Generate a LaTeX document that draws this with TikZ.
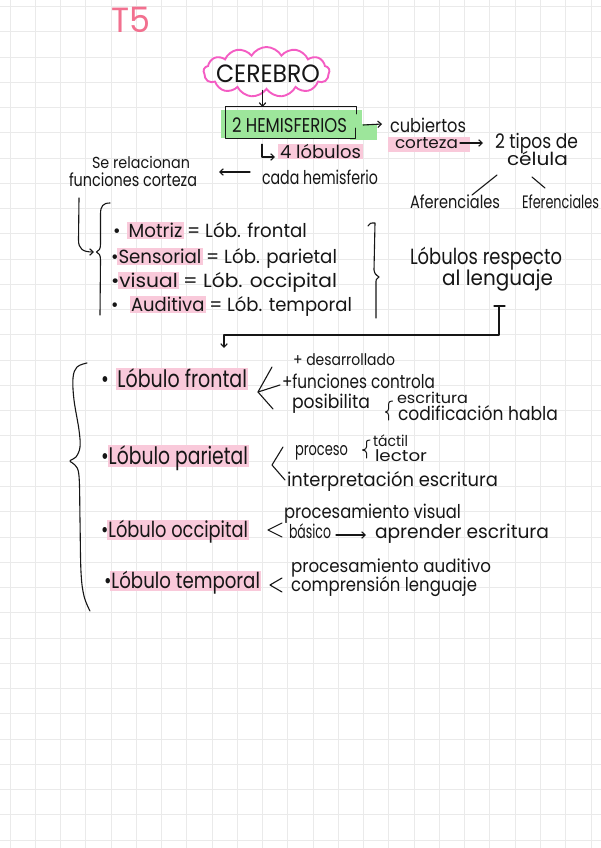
\documentclass[tikz,border=0pt]{standalone}
\usepackage{fontspec}
\setmainfont{Poppins}
\usetikzlibrary{arrows.meta,shapes.symbols}
\definecolor{gridgray}{HTML}{EAEAEA}
\definecolor{ink}{HTML}{161616}
\definecolor{tpink}{HTML}{F2708F}
\definecolor{cloudpink}{HTML}{F45CC3}
\definecolor{hlpink}{HTML}{F9C9DA}
\definecolor{hlgreen}{HTML}{9DE69B}
\newdimen\fitlen
\newcommand\fitw[2]{\settowidth{\fitlen}{#2}\pgfmathsetmacro\fitr{#1/\fitlen}\scalebox{\fitr}[1]{#2}}
\newcommand\fs[1]{\fontsize{#1}{#1}\selectfont}
\newcommand\hl[1]{\setbox0\hbox{#1}\makebox[0pt][l]{\kern-1.5pt\textcolor{hlpink}{\rule[-0.12em]{\dimexpr\wd0+3pt\relax}{0.9em}}}\box0\relax}
\begin{document}
\begin{tikzpicture}[x=1pt,y=-1pt,
  txt/.style={anchor=base west, inner sep=0pt, outer sep=0pt, text=ink},
  ln/.style={draw=ink, line width=1.1pt, line cap=round, line join=round},
  harrow/.style={ln, -{Straight Barb[length=3.5pt,width=6.5pt]}},
  hlp/.style={fill=hlpink},
  hlg/.style={fill=hlgreen},
  gridline/.style={draw=gridgray, line width=0.9pt}]
\useasboundingbox (0,0) rectangle (601,848);
\fill[white] (0,0) rectangle (601,848);
\foreach \i in {0,...,23} \draw[gridline] ({10+25.26*\i},0) -- ({10+25.26*\i},848);
\foreach \j in {0,...,33} \draw[gridline] (0,{6.5+25.26*\j}) -- (601,{6.5+25.26*\j});

% highlights
\fill[hlg] (221,110) rectangle (362,138);
\fill[hlg] (350,124) rectangle (377,140);
\fill[hlp] (388,137) rectangle (470,152);
\fill[hlp] (278,144) rectangle (363,159);

% title
\node[txt, text=tpink, font=\fs{35}] (t5) at (111,33) {\fitw{39}{T5}};

% cerebro
\node[cloud, cloud puffs=13, cloud puff arc=120, cloud ignores aspect, draw=cloudpink, line width=1.9pt, minimum width=126pt, minimum height=50pt, inner sep=0pt] (cloud) at (266.5,72) {};
\node[txt, font=\fs{25}] (cerebro) at (216,83) {\fitw{104}{CEREBRO}};

% hemisferios box
\node[minimum width=130pt, minimum height=31pt, inner sep=0pt] (hemibox) at (291,122.5) {};
\draw[ln] ([yshift=-7pt]hemibox.north east) -- (hemibox.north east) -- (hemibox.north west) -- (hemibox.south west) -- ([xshift=-1pt]hemibox.south east) -- ++(0,-10);
\node[txt, font=\fs{20}] (hemis) at (232,132) {\fitw{115}{2 HEMISFERIOS}};
\coordinate (boxtop) at (262.5,107);
\draw[harrow] (boxtop |- cloud.south) -- (boxtop);

% right branch
\node[txt, font=\fs{19}] (cub) at (390,132) {\fitw{76}{cubiertos}};
\node[txt, font=\fs{16}] (cort) at (395,148) {\fitw{63}{corteza}};
\node[txt, font=\fs{20}] (tipos) at (495,148) {\fitw{83}{2 tipos de}};
\node[txt, font=\fs{18}] (celula) at (507,165) {\fitw{61}{célula}};
\node[txt, font=\fs{18}] (afer) at (410,208) {\fitw{90}{Aferenciales}};
\node[txt, font=\fs{18}] (efer) at (522,208) {\fitw{77}{Eferenciales}};
\draw[harrow] ([shift={(7,2.5)}]hemibox.east) -- ([shift={(-8,-8)}]cub.base west);
\draw[harrow] ([shift={(2,-5)}]cort.base east) -- ([shift={(-12,-5)}]tipos.base west);
\draw[ln] ([shift={(-10,10)}]celula.base west) -- ([shift={(-28,-13)}]afer.base east);
\draw[ln] ([shift={(25,12)}]celula.base west) -- ([shift={(23,-20)}]efer.base west);

% 4 lobulos
\node[txt, font=\fs{18}] (lob4) at (280,158) {\fitw{81}{4 lóbulos}};
\node[txt, font=\fs{19}] (cada) at (262,184) {\fitw{116}{cada hemisferio}};
\draw[harrow] ([shift={(-29,6)}]hemibox.south) |- ([shift={(-5,-1)}]lob4.base west);

% se relacionan
\node[txt, font=\fs{16}] (serel1) at (92,168) {\fitw{98}{Se relacionan}};
\node[txt, font=\fs{18}] (serel2) at (69,186) {\fitw{128}{funciones corteza}};
\draw[harrow] ([shift={(-12,-12)}]cada.base west) -- ([shift={(22,-14)}]serel2.base east);
\coordinate (hookend) at (94,252);
\draw[harrow] ([shift={(10,12)}]serel2.base west) -- (78.5,240) .. controls (78.5,249) and (83,252) .. (hookend);

% left brace and list
\draw[ln] (110,203) .. controls (103,203) and (100.5,206) .. (100.5,214) -- (100.5,244) .. controls (100.5,249) and (99,251) .. (96.5,252) .. controls (99,253) and (100.5,255) .. (100.5,260) -- (100,315);
\node[txt, font=\fs{19}] (m1) at (113,237) {\fitw{194}{•\hspace{0.45em}\hl{Motriz} = Lób. frontal}};
\node[txt, font=\fs{19}] (m2) at (111,263) {\fitw{226}{•\hl{Sensorial} = Lób. parietal}};
\node[txt, font=\fs{19}] (m3) at (111,287) {\fitw{226}{•\hl{visual} = Lób. occipital}};
\node[txt, font=\fs{19}] (m4) at (111,311) {\fitw{241}{•\hspace{0.7em}\hl{Auditiva} = Lób. temporal}};
\draw[ln] (368,226) .. controls (370,223) .. (375,223) -- (374,270) .. controls (375,274) .. (379,277) .. controls (376,279) .. (376,284) -- (376,318);

% lobulos respecto al lenguaje
\node[txt, font=\fs{22}] (resp1) at (410,264) {\fitw{152}{Lóbulos respecto}};
\node[txt, font=\fs{21}] (resp2) at (442,285) {\fitw{111}{al lenguaje}};
\coordinate (tee) at (499,306);
\coordinate (lobtop) at (224,348);
\draw[ln] ([xshift=-5pt]tee) -- ([xshift=6pt]tee);
\draw[harrow] (tee) -- (499,335) -- (224,335) -- (lobtop);

% big brace
\draw[ln] plot[smooth, tension=0.6] coordinates {(87,363) (77,367) (73,378) (74,400) (79,430) (80,447) (76,457) (70,461) (75,465) (79,476) (80,520) (81,572) (84,596) (90,611)};

% lower list
\node[txt, font=\fs{24}] (f1) at (101,387) {\fitw{146}{•\hspace{0.45em}\hl{Lóbulo frontal}}};
\node[txt, font=\fs{24}] (f2) at (101,464) {\fitw{147}{•\hl{Lóbulo parietal}}};
\node[txt, font=\fs{22}] (f3) at (101,537) {\fitw{147}{•\hl{Lóbulo occipital}}};
\node[txt, font=\fs{22}] (f4) at (104,588) {\fitw{156}{•\hl{Lóbulo temporal}}};

% frontal
\coordinate (fv) at (258,392);
\draw[ln] (272,367) -- (fv) -- (273,409);
\draw[ln] (fv) -- (280,385);
\node[txt, font=\fs{16}] (des) at (293,365) {\fitw{102}{+ desarrollado}};
\node[txt, font=\fs{19}] (fun) at (282,388) {\fitw{153}{+funciones controla}};
\node[txt, font=\fs{19}] (pos) at (292,408) {\fitw{78}{posibilita}};
\node[txt, font=\fs{15}] (esc1) at (397,403) {\fitw{71}{escritura}};
\node[txt, font=\fs{19}] (cod) at (398,420) {\fitw{160}{codificación habla}};
\draw[ln, line width=1pt] (392.5,401) .. controls (389,401.5) .. (388.5,405) -- (388.5,409) .. controls (388,411) .. (385.5,412) .. controls (388,413) .. (388.5,415) -- (388.5,420);

% parietal
\draw[ln] (283,447) -- (272,465) -- (285,480);
\node[txt, font=\fs{18}] (proc) at (295,455) {\fitw{53}{proceso}};
\node[txt, font=\fs{15}] (tact) at (373,446) {\fitw{35}{táctil}};
\node[txt, font=\fs{16}] (lect) at (375,461) {\fitw{52}{lector}};
\draw[ln, line width=1pt] (370,440) .. controls (366.5,440.5) .. (366.5,444) -- (366.5,447) .. controls (366,449) .. (362.5,450) .. controls (366,451) .. (366.5,453) -- (366.5,458);
\node[txt, font=\fs{19}] (interp) at (287,486) {\fitw{211}{interpretación escritura}};

% occipital
\draw[ln] (282,523) -- (268,530) -- (282,537);
\node[txt, font=\fs{19}] (pv) at (284,518) {\fitw{177}{procesamiento visual}};
\node[txt, font=\fs{19}] (bas) at (289,538) {\fitw{42}{básico}};
\node[txt, font=\fs{19}] (apr) at (375,538) {\fitw{174}{aprender escritura}};
\draw[harrow] ([shift={(5,-3)}]bas.base east) -- ([shift={(-9,-3)}]apr.base west);

% temporal
\draw[ln] (282,578) -- (270,585) -- (282,592);
\node[txt, font=\fs{18}] (pa) at (291,572) {\fitw{200}{procesamiento auditivo}};
\node[txt, font=\fs{19}] (comp) at (291,591) {\fitw{186}{comprensión lenguaje}};
\end{tikzpicture}
\end{document}
